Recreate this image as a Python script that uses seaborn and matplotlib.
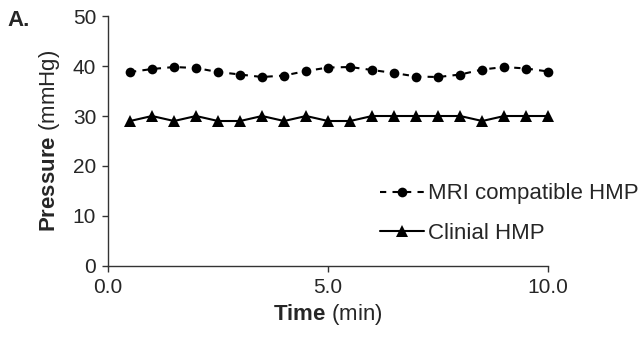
import matplotlib
matplotlib.use("Agg")
import matplotlib.pyplot as plt
import matplotlib.ticker as mticker
import seaborn as sns
import pandas as pd

# time points (min) and measured pressures (mmHg)
time_min = [0.5, 1.0, 1.5, 2.0, 2.5, 3.0, 3.5, 4.0, 4.5, 5.0,
            5.5, 6.0, 6.5, 7.0, 7.5, 8.0, 8.5, 9.0, 9.5, 10.0]
mri_hmp = [38.8, 39.4, 39.8, 39.6, 38.8, 38.3, 37.8, 38.1, 39.0, 39.7,
           39.8, 39.2, 38.6, 37.9, 37.8, 38.3, 39.3, 39.8, 39.5, 38.9]
clinical_hmp = [29, 30, 29, 30, 29, 29, 30, 29, 30, 29,
                29, 30, 30, 30, 30, 30, 29, 30, 30, 30]
series_labels = ["MRI compatible HMP", "Clinial HMP"]
y_ticks = [0, 10, 20, 30, 40, 50]
x_ticks = [0.0, 5.0, 10.0]

sns.set_style("white")
plt.rcParams["font.family"] = ["Liberation Sans", "DejaVu Sans"]
plt.rcParams["mathtext.fontset"] = "custom"
plt.rcParams["mathtext.rm"] = "Liberation Sans"
plt.rcParams["mathtext.bf"] = "Liberation Sans:bold"

df = pd.DataFrame({"time": time_min, "mri": mri_hmp, "clin": clinical_hmp})

fig = plt.figure(figsize=(6.39, 3.41), dpi=100)
ax = fig.add_axes([0.169, 0.22, 0.689, 0.733])

sns.lineplot(data=df, x="time", y="mri", ax=ax, color="black", lw=1.5,
             ls=(0, (3, 3)), marker="o", markersize=7, markeredgewidth=0,
             label=series_labels[0], clip_on=False)
sns.lineplot(data=df, x="time", y="clin", ax=ax, color="black", lw=1.5,
             marker="^", markersize=8, markeredgewidth=0,
             label=series_labels[1], clip_on=False)

ax.set_xlim(0, 10)
ax.set_ylim(0, 50)
ax.set_xticks(x_ticks)
ax.set_yticks(y_ticks)
ax.xaxis.set_major_formatter(mticker.FormatStrFormatter("%.1f"))
ax.tick_params(axis="both", which="major", direction="out", length=4.5,
               width=1, color="#333333", labelsize=15, pad=4,
               bottom=True, left=True)
for side in ["top", "right"]:
    ax.spines[side].set_visible(False)
for side in ["left", "bottom"]:
    ax.spines[side].set_color("#333333")
    ax.spines[side].set_linewidth(1)

ax.set_xlabel(r"$\mathbf{Time}$ (min)", fontsize=16, labelpad=4)
ax.set_ylabel(r"$\mathbf{Pressure}$ (mmHg)", fontsize=16, labelpad=8)

ax.legend(loc="upper left", bbox_to_anchor=(0.577, 0.495),
          bbox_transform=fig.transFigure, frameon=False, fontsize=16,
          handlelength=2.0, handletextpad=0.15, labelspacing=0.85,
          borderpad=0)

fig.text(0.012, 1 - 20 / 341, "A.", fontsize=16, fontweight="bold",
         va="center", ha="left")

fig.savefig("out.png", dpi=100)
